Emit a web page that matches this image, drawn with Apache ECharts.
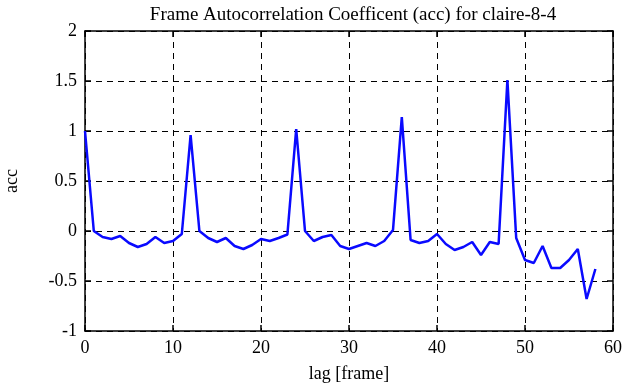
<!DOCTYPE html>
<html>
<head>
<meta charset="utf-8">
<script src="https://cdn.jsdelivr.net/npm/echarts@6/dist/echarts.min.js"></script>
<style>
  html, body { margin: 0; padding: 0; background: #fff; }
  #chart { width: 625px; height: 387px; }
</style>
</head>
<body>
<div id="chart"></div>
<script>
// autocorrelation values for lag 0..58
const lags = [];
for (let i = 0; i <= 58; i++) lags.push(i);
const acc = [
  1.0, 0.0, -0.06, -0.08, -0.05, -0.12, -0.16, -0.13, -0.06, -0.12,
  -0.10, -0.03, 0.96, 0.0, -0.07, -0.11, -0.07, -0.15, -0.18, -0.14,
  -0.08, -0.10, -0.07, -0.035, 1.02, 0.0, -0.10, -0.06, -0.04, -0.15,
  -0.18, -0.15, -0.12, -0.15, -0.10, 0.01, 1.14, -0.09, -0.12, -0.10,
  -0.03, -0.13, -0.19, -0.16, -0.11, -0.24, -0.11, -0.13, 1.51, -0.07,
  -0.29, -0.32, -0.15, -0.37, -0.37, -0.29, -0.18, -0.68, -0.38
];

const font = 'Liberation Serif';
const chart = echarts.init(document.getElementById('chart'));

// top / right axes only close the box and carry inward ticks
const boxAxis = {
  axisLine: { show: true, onZero: false, lineStyle: { color: '#000', width: 1.5 } },
  axisTick: { show: true, inside: true, length: 6, lineStyle: { color: '#000', width: 1.5 } },
  axisLabel: { show: false },
  splitLine: { show: false }
};

chart.setOption({
  animation: false,
  title: {
    text: 'Frame Autocorrelation Coefficent (acc) for claire-8-4',
    left: 348, top: 1, textAlign: 'center',
    textStyle: { fontFamily: font, fontSize: 19, fontWeight: 'normal', color: '#000' }
  },
  grid: { left: 85, right: 12, top: 31, bottom: 56, outerBoundsMode: 'none' },
  xAxis: [{
    type: 'value', min: 0, max: 60, interval: 10,
    name: 'lag [frame]', nameLocation: 'middle', nameGap: 34,
    nameTextStyle: { fontFamily: font, fontSize: 18, color: '#000' },
    axisLine: { onZero: false, lineStyle: { color: '#000', width: 1.5 } },
    axisTick: { inside: true, length: 6, lineStyle: { color: '#000', width: 1.5 } },
    axisLabel: { fontFamily: font, fontSize: 18, color: '#000', margin: 8 },
    splitLine: { show: true, lineStyle: { color: '#000', type: [6, 5], width: 1 } }
  }, Object.assign({ type: 'value', min: 0, max: 60, interval: 10, position: 'top' }, boxAxis)],
  yAxis: [{
    type: 'value', min: -1, max: 2, interval: 0.5,
    name: 'acc', nameLocation: 'middle', nameGap: 64, nameRotate: 90,
    nameTextStyle: { fontFamily: font, fontSize: 18, color: '#000' },
    axisLine: { show: true, onZero: false, lineStyle: { color: '#000', width: 1.5 } },
    axisTick: { show: true, inside: true, length: 6, lineStyle: { color: '#000', width: 1.5 } },
    axisLabel: { fontFamily: font, fontSize: 18, color: '#000', margin: 8 },
    splitLine: { show: true, lineStyle: { color: '#000', type: [6, 5], width: 1 } }
  }, Object.assign({ type: 'value', min: -1, max: 2, interval: 0.5, position: 'right' }, boxAxis)],
  series: [{
    type: 'line',
    data: lags.map((l, i) => [l, acc[i]]),
    showSymbol: false,
    lineStyle: { color: '#0a0aff', width: 2.5 },
    itemStyle: { color: '#0a0aff' }
  }]
});
</script>
</body>
</html>
